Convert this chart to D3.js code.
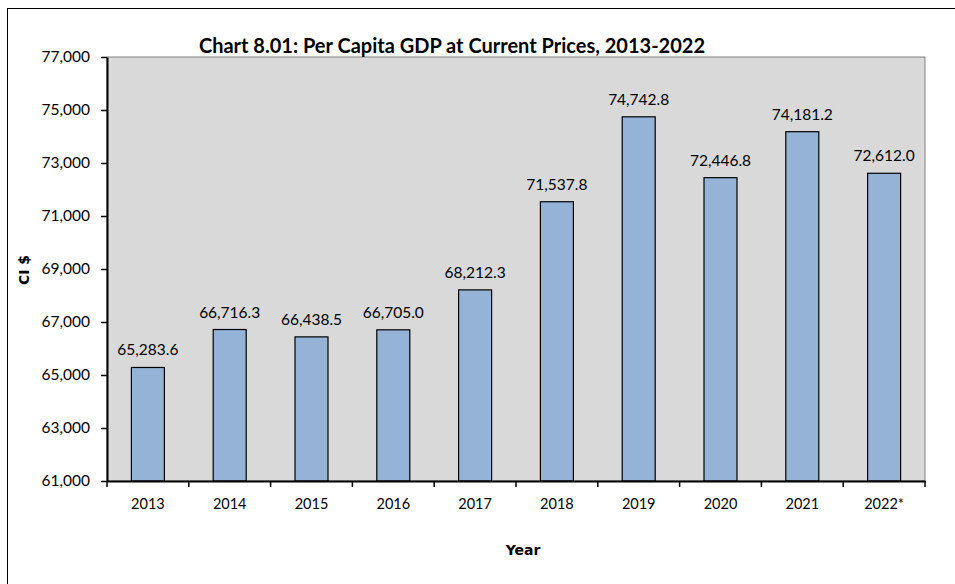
<!DOCTYPE html>
<html><head><meta charset="utf-8">
<script src="https://cdn.jsdelivr.net/npm/d3@7"></script>
<style>body{margin:0;background:#fff;} svg{display:block;} text{font-family:Lato,"Open Sans",sans-serif;}</style>
</head><body><svg id="c" width="955" height="584"></svg>
<script>
const categories = ["2013","2014","2015","2016","2017","2018","2019","2020","2021","2022*"];
const values = [65283.6,66716.3,66438.5,66705.0,68212.3,71537.8,74742.8,72446.8,74181.2,72612.0];
const yTicks = [61000,63000,65000,67000,69000,71000,73000,75000,77000];
const title = "Chart 8.01: Per Capita GDP at Current Prices, 2013-2022";
const yLabel = "CI $";
const xLabel = "Year";

const svg = d3.select("#c");
const L=107, R=925, T=57, B=481;
svg.append("rect").attr("x",7.5).attr("y",8.5).attr("width",1000).attr("height",1000).attr("fill","#fff").attr("stroke","#000");
svg.append("rect").attr("x",L).attr("y",T).attr("width",R-L).attr("height",B-T).attr("fill","#d9d9d9").attr("stroke","#808080");

const xb = d3.scaleBand().domain(categories).range([L,R]);
const y = d3.scaleLinear().domain([61000,77000]).range([B,T]);

svg.selectAll("rect.bar").data(values).enter().append("rect").attr("class","bar")
  .attr("x",(d,i)=>xb(categories[i])+xb.bandwidth()/2-16.5).attr("width",33)
  .attr("y",d=>y(d)).attr("height",d=>B-y(d))
  .attr("fill","#95b3d7").attr("stroke","#000").attr("stroke-width",1.2);

svg.selectAll("text.val").data(values).enter().append("text").attr("class","val")
  .attr("x",(d,i)=>xb(categories[i])+xb.bandwidth()/2).attr("y",d=>y(d)-12)
  .attr("text-anchor","middle").attr("font-size",15.5).attr("fill","#000")
  .text(d=>d3.format(",.1f")(d));

const ya = svg.append("g").attr("transform",`translate(${L},0)`)
  .call(d3.axisLeft(y).tickValues(yTicks).tickFormat(d3.format(",")).tickSize(6).tickSizeOuter(0));
ya.select(".domain").attr("stroke","#000").attr("stroke-width",2);
ya.selectAll("text").attr("font-size",15.5).attr("fill","#000").attr("x",-17).style("font-family","Lato,'Open Sans',sans-serif");
ya.selectAll("line").attr("stroke","#000").attr("stroke-width",1.5);

const xa = svg.append("g").attr("transform",`translate(0,${B})`)
  .call(d3.axisBottom(xb).tickSize(0).tickPadding(18));
xa.select(".domain").attr("stroke","#000").attr("stroke-width",2);
xa.selectAll("text").attr("font-size",14.5).attr("fill","#000").style("font-family","Lato,'Open Sans',sans-serif");
const bounds = categories.map(c=>xb(c)).concat([R]);
svg.append("g").selectAll("line").data(bounds).enter().append("line")
  .attr("x1",d=>d).attr("x2",d=>d).attr("y1",B).attr("y2",B+6).attr("stroke","#000").attr("stroke-width",1.5);

svg.append("text").attr("x",452).attr("y",53).attr("text-anchor","middle").attr("font-size",20).attr("font-weight","bold").text(title);
svg.append("text").attr("transform","translate(29,270) rotate(-90)").attr("text-anchor","middle").attr("font-size",14).attr("font-weight","bold").style("font-family","'DejaVu Sans',sans-serif").text(yLabel);
svg.append("text").attr("x",523).attr("y",555).attr("text-anchor","middle").attr("font-size",14).attr("font-weight","bold").style("font-family","'DejaVu Sans',sans-serif").text(xLabel);
</script></body></html>
